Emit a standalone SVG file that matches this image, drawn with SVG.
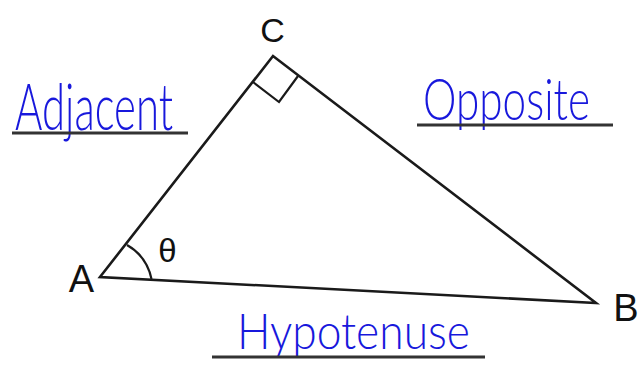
<svg xmlns="http://www.w3.org/2000/svg" width="641" height="379" viewBox="0 0 641 379">
<style>
.edge{fill:none;stroke:#1a1a1a;stroke-width:2.6;stroke-linejoin:miter;stroke-linecap:round}
.thin{fill:none;stroke:#1a1a1a;stroke-width:2.2}
.ul{stroke:#333;stroke-width:3.2;stroke-linecap:butt}
.lbl{font-family:"Liberation Sans",Arial,sans-serif;fill:#111}
.hw{font-family:Lato,"Open Sans",sans-serif;font-weight:300;fill:#1818dc}
</style>
<rect width="641" height="379" fill="#fff"/>
<g id="connectors">
<polygon class="edge" points="100,277 273,56 596,303"/>
<polyline class="thin" points="253,82 279,102 298,76"/>
<path class="thin" d="M151.5,279 A51,51 0 0 0 127,245"/>
</g>
<g id="A"><text class="lbl" x="81.5" y="292" font-size="38" text-anchor="middle">A</text></g>
<g id="B"><text class="lbl" x="626" y="321" font-size="38" text-anchor="middle">B</text></g>
<g id="C"><text class="lbl" x="272.5" y="42" font-size="34" text-anchor="middle">C</text></g>
<g id="theta"><text class="lbl" x="167.5" y="262" font-size="33" text-anchor="middle">θ</text></g>
<g id="adjacent">
<text class="hw" x="15" y="130" font-size="66" textLength="158" lengthAdjust="spacingAndGlyphs">Adjacent</text>
<line class="ul" x1="12" y1="133" x2="188" y2="133"/>
</g>
<g id="opposite">
<text class="hw" x="423" y="120" font-size="58" textLength="167" lengthAdjust="spacingAndGlyphs">Opposite</text>
<line class="ul" x1="417" y1="125" x2="613" y2="125"/>
</g>
<g id="hypotenuse">
<text class="hw" x="237" y="349" font-size="50" textLength="233" lengthAdjust="spacingAndGlyphs">Hypotenuse</text>
<line class="ul" x1="212" y1="357" x2="485" y2="357"/>
</g>
</svg>
